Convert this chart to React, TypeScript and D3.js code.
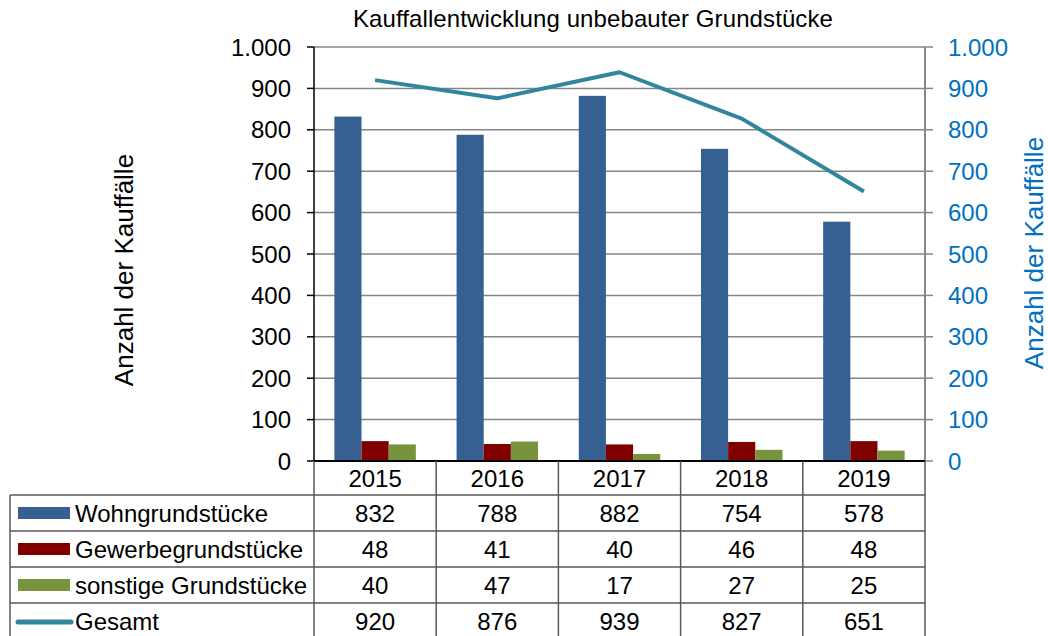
import * as d3 from "d3"

const years = ["2015", "2016", "2017", "2018", "2019"]
const wohn = [832, 788, 882, 754, 578]
const gewerbe = [48, 41, 40, 46, 48]
const sonstige = [40, 47, 17, 27, 25]
const gesamt = [920, 876, 939, 827, 651]
const yTicks = [0, 100, 200, 300, 400, 500, 600, 700, 800, 900, 1000]

const barSeries = [
  { name: "Wohngrundstücke", values: wohn, color: "#376092" },
  { name: "Gewerbegrundstücke", values: gewerbe, color: "#800000" },
  { name: "sonstige Grundstücke", values: sonstige, color: "#77933C" },
]
const lineColor = "#31859C"
const axisBlue = "#0070C0"

const W = 1048
const H = 636
const PLOT = { left: 314, right: 925, top: 47, bottom: 461 }
const TABLE_LEFT = 10
const ROWS = [495, 531, 567, 603, 639]
const FONT = "'Liberation Sans', Arial, sans-serif"

const fmt = (v: number) => (v >= 1000 ? d3.format(",")(v).replace(",", ".") : String(v))

export default function App() {
  const x = d3.scaleBand().domain(years).range([PLOT.left, PLOT.right])
  const inner = d3
    .scaleBand()
    .domain(barSeries.map((s) => s.name))
    .range([0, x.bandwidth()])
    .paddingOuter(0.75)
  const y = d3.scaleLinear().domain([0, 1000]).range([PLOT.bottom, PLOT.top])

  const line = d3
    .line<number>()
    .x((_, i) => x(years[i])! + x.bandwidth() / 2)
    .y((d) => y(d))

  const tableRows = [
    ...barSeries.map((s) => ({ ...s, kind: "bar" })),
    { name: "Gesamt", values: gesamt, color: lineColor, kind: "line" },
  ]

  return (
    <svg
      width={W}
      height={H}
      style={{ position: "absolute", left: 0, top: 0, background: "#fff" }}
      fontFamily={FONT}
    >
      {/* title */}
      <text x={593} y={27} textAnchor="middle" fontSize={24} letterSpacing={0.1} fill="#000">
        Kauffallentwicklung unbebauter Grundstücke
      </text>

      {/* gridlines */}
      {yTicks.slice(1).map((t) => (
        <line key={t} x1={PLOT.left} x2={PLOT.right} y1={y(t)} y2={y(t)} stroke="#868686" strokeWidth={1.5} />
      ))}

      {/* bars */}
      {barSeries.map((s) =>
        s.values.map((v, i) => (
          <rect
            key={s.name + i}
            x={x(years[i])! + inner(s.name)!}
            y={y(v)}
            width={inner.bandwidth()}
            height={y(0) - y(v)}
            fill={s.color}
          />
        ))
      )}

      {/* total line */}
      <path d={line(gesamt)!} fill="none" stroke={lineColor} strokeWidth={4} strokeLinejoin="round" />

      {/* left axis */}
      <line x1={PLOT.left} x2={PLOT.left} y1={PLOT.top} y2={PLOT.bottom} stroke="#000" strokeWidth={1.5} />
      {yTicks.map((t) => (
        <g key={"l" + t}>
          <line x1={PLOT.left - 7} x2={PLOT.left} y1={y(t)} y2={y(t)} stroke="#000" strokeWidth={1.5} />
          <text x={291} y={y(t) + 8.5} textAnchor="end" fontSize={24} fill="#000">
            {fmt(t)}
          </text>
        </g>
      ))}

      {/* right axis */}
      <line x1={PLOT.right} x2={PLOT.right} y1={PLOT.top} y2={PLOT.bottom} stroke="#868686" strokeWidth={2} />
      {yTicks.map((t) => (
        <g key={"r" + t}>
          <line x1={PLOT.right} x2={PLOT.right + 8} y1={y(t)} y2={y(t)} stroke="#868686" strokeWidth={1.5} />
          <text x={948} y={y(t) + 8.5} fontSize={24} fill={axisBlue}>
            {fmt(t)}
          </text>
        </g>
      ))}

      {/* bottom axis */}
      <line x1={PLOT.left} x2={PLOT.right} y1={PLOT.bottom} y2={PLOT.bottom} stroke="#000" strokeWidth={2} />

      {/* axis titles */}
      <text
        transform={`translate(133,270) rotate(-90)`}
        textAnchor="middle"
        fontSize={26}
        fill="#000"
      >
        Anzahl der Kauffälle
      </text>
      <text
        transform={`translate(1043,253) rotate(-90)`}
        textAnchor="middle"
        fontSize={26}
        fill={axisBlue}
      >
        Anzahl der Kauffälle
      </text>

      {/* data table */}
      {[...years.map((yr) => x(yr)!), PLOT.right].map((vx, i) => (
        <line key={"v" + i} x1={vx} x2={vx} y1={PLOT.bottom} y2={H} stroke="#595959" strokeWidth={1.5} />
      ))}
      <line x1={TABLE_LEFT} x2={TABLE_LEFT} y1={ROWS[0]} y2={H} stroke="#595959" strokeWidth={1.5} />
      {ROWS.slice(0, 4).map((ry) => (
        <line key={"h" + ry} x1={TABLE_LEFT} x2={PLOT.right} y1={ry} y2={ry} stroke="#595959" strokeWidth={1.5} />
      ))}
      {years.map((yr) => (
        <text key={"y" + yr} x={x(yr)! + x.bandwidth() / 2} y={487} textAnchor="middle" fontSize={24} fill="#000">
          {yr}
        </text>
      ))}
      {tableRows.map((r, ri) => {
        const cy = (ROWS[ri] + ROWS[ri + 1]) / 2
        return (
          <g key={r.name}>
            {r.kind === "bar" ? (
              <rect x={18} y={cy - 6} width={52} height={12} fill={r.color} />
            ) : (
              <line x1={18} x2={71} y1={cy + 1} y2={cy + 1} stroke={r.color} strokeWidth={5} strokeLinecap="round" />
            )}
            <text x={75} y={cy + 8.5} fontSize={24} fill="#000">
              {r.name}
            </text>
            {r.values.map((v, i) => (
              <text
                key={i}
                x={x(years[i])! + x.bandwidth() / 2}
                y={cy + 8.5}
                textAnchor="middle"
                fontSize={24}
                fill="#000"
              >
                {v}
              </text>
            ))}
          </g>
        )
      })}
    </svg>
  )
}
